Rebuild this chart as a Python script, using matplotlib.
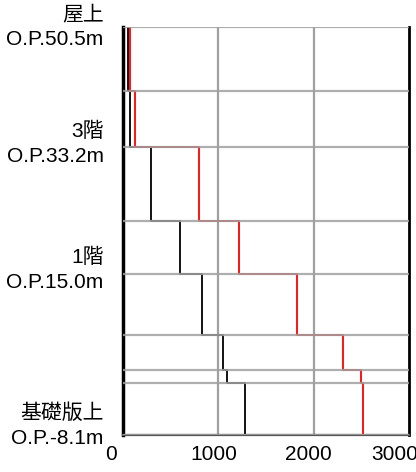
import numpy as np
import matplotlib
matplotlib.use("Agg")
import matplotlib.pyplot as plt
from matplotlib.transforms import ScaledTranslation

# floor levels (O.P. m), top to bottom
LEVELS = [50.5, 41.3, 33.2, 22.7, 15.0, 6.3, 1.2, -0.7, -8.1]
# values per story (between consecutive levels)
BLACK_VALUES = [48, 78, 293, 594, 824, 1044, 1089, 1277]
RED_VALUES = [73, 127, 796, 1218, 1825, 2311, 2499, 2513]

LABEL_LEVELS = [50.5, 33.2, 15.0, -8.1]
LABEL_TEXTS = ["屋上\nO.P.50.5m", "3階\nO.P.33.2m", "1階\nO.P.15.0m", "基礎版上\nO.P.-8.1m"]
X_TICKS = [0, 1000, 2000, 3000]
# nudges of tick labels (pixels)
X_LABEL_SHIFT = [-12, -5, -5, -14]
Y_LABEL_SHIFT = [5, 9, 9, 14]

FONT = ["Liberation Sans", "Noto Sans CJK JP", "DejaVu Sans"]
plt.rcParams["font.family"] = FONT


def step_profile(levels, values):
    ys = np.repeat(levels, 2)[1:-1]
    xs = np.repeat(values, 2)
    return xs, ys


fig = plt.figure(figsize=(4.16, 4.72), dpi=100)
ax = fig.add_axes([0.2957, 0.0784, 0.6875, 0.8644])

xb, yb = step_profile(LEVELS, BLACK_VALUES)
xr, yr = step_profile(LEVELS, RED_VALUES)
ax.plot(xb, yb, color="black", linewidth=1.3, zorder=2)
ax.plot(xr, yr, color="#ff0000", linewidth=1.3, zorder=2)

for lv in LEVELS:
    ax.axhline(lv, color="#a0a0a0", linewidth=1.6, alpha=0.85, zorder=3)
for xv in X_TICKS[1:-1]:
    ax.axvline(xv, color="#a0a0a0", linewidth=1.6, zorder=1)

ax.set_xlim(0, 3000)
ax.set_ylim(min(LEVELS), max(LEVELS))
ax.set_xticks(X_TICKS)
ax.set_xticklabels([str(t) for t in X_TICKS], fontsize=15)
ax.set_yticks(LABEL_LEVELS)
ax.set_yticklabels(LABEL_TEXTS, fontsize=15, linespacing=1.4)
ax.tick_params(axis="y", length=0, pad=14)
ax.tick_params(axis="x", length=0, pad=7)

for lab, dx in zip(ax.get_xticklabels(), X_LABEL_SHIFT):
    lab.set_transform(lab.get_transform() + ScaledTranslation(dx / 100, 0, fig.dpi_scale_trans))
for lab, dy in zip(ax.get_yticklabels(), Y_LABEL_SHIFT):
    lab.set_transform(lab.get_transform() + ScaledTranslation(0, dy / 100, fig.dpi_scale_trans))

ax.spines["top"].set_visible(False)
ax.spines["left"].set_linewidth(2.5)
ax.spines["left"].set_color("black")
ax.spines["right"].set_linewidth(2)
ax.spines["right"].set_color("black")
ax.spines["bottom"].set_linewidth(1.6)
ax.spines["bottom"].set_color("#555555")

fig.savefig("out.png", dpi=100)
